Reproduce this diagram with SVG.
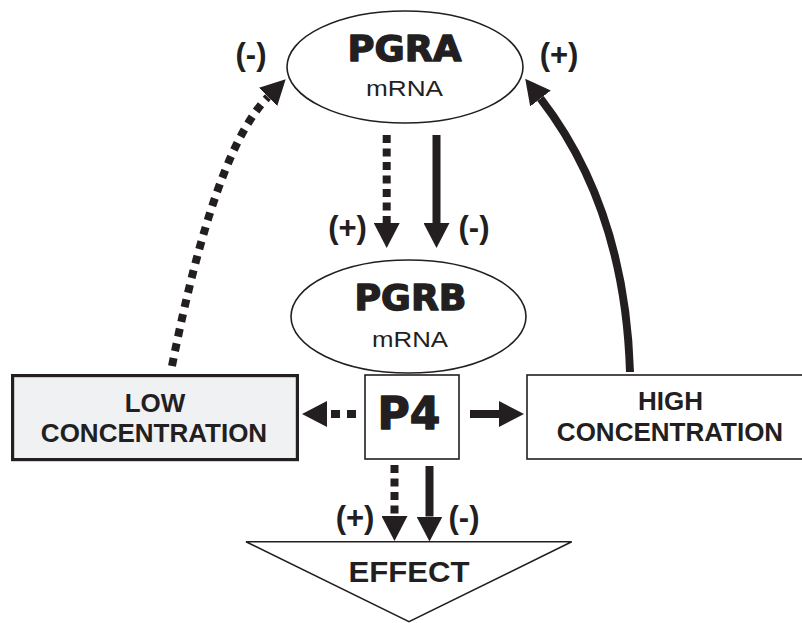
<svg xmlns="http://www.w3.org/2000/svg" width="802" height="623" viewBox="0 0 802 623">
  <style>
    .bg { fill: #ffffff; }
    .node { fill: #ffffff; stroke: #231f20; stroke-width: 1.6; }
    .low { fill: #f0f1f3; stroke: #231f20; stroke-width: 3.2; }
    .big { font-family: "DejaVu Sans", "Liberation Sans", sans-serif; font-weight: bold; fill: #231f20; stroke: #231f20; stroke-width: 1.4; stroke-linejoin: round; text-anchor: middle; }
    .sub { font-family: "Liberation Sans", Arial, sans-serif; font-size: 22px; fill: #231f20; text-anchor: middle; }
    .lbl { font-family: "Liberation Sans", Arial, sans-serif; font-weight: bold; font-size: 26px; fill: #231f20; text-anchor: middle; }
    .eff { font-size: 29px; }
    .sign { font-family: "Liberation Sans", Arial, sans-serif; font-weight: bold; font-size: 31px; fill: #231f20; text-anchor: middle; }
    .solid { fill: none; stroke: #231f20; stroke-width: 8; marker-end: url(#head); }
    .dash { fill: none; stroke: #231f20; stroke-width: 8; stroke-dasharray: 8 5.5; marker-end: url(#head); }
    .dashc { fill: none; stroke: #231f20; stroke-width: 8; stroke-dasharray: 8 7; marker-end: url(#head); }
  </style>
  <defs>
    <marker id="head" viewBox="0 0 25 26" refX="0" refY="13" markerWidth="25" markerHeight="26" markerUnits="userSpaceOnUse" orient="auto">
      <path d="M0,0 L25,13 L0,26 Z" fill="#231f20"/>
    </marker>
  </defs>
  <rect class="bg" x="0" y="0" width="802" height="623"/>

  <g id="connectors">
    <path class="dashc" d="M172,366 Q215,150 268,97"/>
    <path class="solid" d="M630,372 Q625,208 540.5,98.5"/>
    <path class="dash" d="M386.7,135 L386.7,223"/>
    <path class="solid" d="M436.5,135 L436.5,223"/>
    <path class="dash" style="stroke-dasharray: 9 7" d="M356,414 L327,414"/>
    <path class="solid" d="M470,414 L499,414"/>
    <path class="dash" d="M394.5,465 L394.5,516"/>
    <path class="solid" d="M429.5,466 L429.5,516.5"/>
  </g>

  <g id="labels">
    <text class="sign" x="251" y="65">(-)</text>
    <text class="sign" x="559" y="65">(+)</text>
    <text class="sign" x="347.5" y="238">(+)</text>
    <text class="sign" x="474" y="238">(-)</text>
    <text class="sign" x="355" y="527.5">(+)</text>
    <text class="sign" x="464" y="527.5">(-)</text>
  </g>

  <g id="pgra">
    <ellipse class="node" cx="405" cy="67" rx="118" ry="56"/>
    <text class="big" x="404.5" y="61" font-size="36" textLength="114" lengthAdjust="spacingAndGlyphs">PGRA</text>
    <text class="sub" x="404.5" y="96" textLength="77" lengthAdjust="spacingAndGlyphs">mRNA</text>
  </g>

  <g id="pgrb">
    <ellipse class="node" cx="408.5" cy="316.5" rx="117.5" ry="56.5"/>
    <text class="big" x="410.5" y="310" font-size="36" textLength="112" lengthAdjust="spacingAndGlyphs">PGRB</text>
    <text class="sub" x="410" y="347" textLength="76" lengthAdjust="spacingAndGlyphs">mRNA</text>
  </g>

  <g id="low">
    <rect class="low" x="12.6" y="375.6" width="284.8" height="84"/>
    <text class="lbl" x="155" y="412">LOW</text>
    <text class="lbl" x="154" y="441.7">CONCENTRATION</text>
  </g>

  <g id="p4">
    <rect class="node" x="365" y="375" width="94" height="84"/>
    <text class="big" x="409" y="429" font-size="44">P4</text>
  </g>

  <g id="high">
    <rect class="node" x="527" y="375" width="290" height="84"/>
    <text class="lbl" x="670.5" y="410">HIGH</text>
    <text class="lbl" x="670" y="440.7">CONCENTRATION</text>
  </g>

  <g id="effect">
    <polygon class="node" points="246,541.7 571.7,541.7 409,621.7"/>
    <text class="lbl eff" x="409" y="581.7" textLength="121" lengthAdjust="spacingAndGlyphs">EFFECT</text>
  </g>
</svg>
